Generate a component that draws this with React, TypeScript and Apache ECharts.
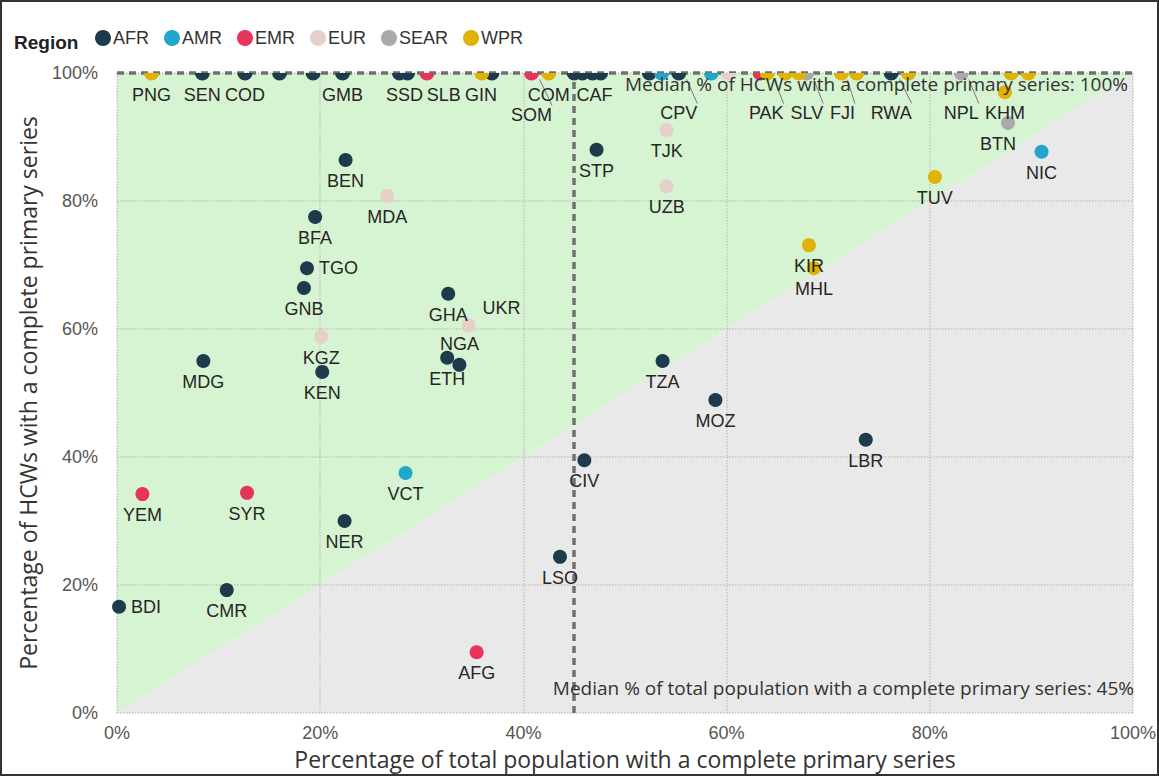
import React, { useEffect, useRef } from "react";
import * as echarts from "echarts";

// [code, % population complete primary series, % HCWs complete primary series]
const AFR: [string, number, number][] = [
  ["SEN", 8.4, 100], ["COD", 12.6, 100], ["", 16.0, 100], ["", 19.3, 100], ["GMB", 22.2, 100],
  ["", 27.8, 100], ["SSD", 28.6, 100], ["GIN", 36.9, 100], ["", 45.0, 100], ["", 45.8, 100],
  ["CAF", 46.8, 100], ["", 47.6, 100], ["", 52.4, 100], ["CPV", 55.3, 100], ["RWA", 76.2, 100],
  ["STP", 47.2, 88.0], ["BEN", 22.5, 86.4], ["BFA", 19.5, 77.5], ["TGO", 18.7, 69.5],
  ["GNB", 18.4, 66.4], ["GHA", 32.6, 65.5], ["KEN", 20.2, 53.3], ["MDG", 8.5, 55.0],
  ["ETH", 32.5, 55.5], ["NGA", 33.7, 54.4], ["TZA", 53.7, 55.0], ["MOZ", 58.9, 48.9],
  ["LBR", 73.7, 42.7], ["CIV", 46.0, 39.5], ["NER", 22.4, 30.0], ["LSO", 43.6, 24.4],
  ["CMR", 10.8, 19.2], ["BDI", 0.2, 16.6],
];
const AMR: [string, number, number][] = [
  ["", 53.6, 100], ["", 58.5, 100], ["NIC", 91.0, 87.7], ["VCT", 28.4, 37.5],
];
const EMR: [string, number, number][] = [
  ["", 30.5, 100], ["SOM", 40.8, 100], ["", 63.3, 100],
  ["YEM", 2.5, 34.2], ["SYR", 12.8, 34.4], ["AFG", 35.4, 9.5],
];
const EUR: [string, number, number][] = [
  ["", 60.2, 100], ["TJK", 54.1, 91.1], ["UZB", 54.1, 82.3], ["MDA", 26.6, 80.8],
  ["UKR", 34.6, 60.6], ["KGZ", 20.1, 58.8],
];
const SEAR: [string, number, number][] = [
  ["SLV", 67.9, 100], ["NPL", 83.1, 100], ["BTN", 87.7, 92.2],
];
const WPR: [string, number, number][] = [
  ["PNG", 3.4, 100], ["SLB", 35.9, 100], ["COM", 42.5, 100], ["PAK", 64.0, 100], ["", 65.8, 100],
  ["", 67.1, 100], ["FJI", 71.3, 100], ["", 72.8, 100], ["", 77.9, 100], ["", 88.0, 100],
  ["", 89.7, 100], ["KHM", 87.4, 97.0], ["TUV", 80.5, 83.75], ["KIR", 68.1, 73.1], ["MHL", 68.6, 69.5],
];

const REGIONS = ["AFR", "AMR", "EMR", "EUR", "SEAR", "WPR"];
const REGION_DATA = [AFR, AMR, EMR, EUR, SEAR, WPR];
const COLORS = ["#1d3b4c", "#20a7cb", "#e8335d", "#e6d0ca", "#a9a9a9", "#dfb203"];

const MEDIAN_X = 45;
const MEDIAN_Y = 100;
const AXIS_MIN = 0;
const AXIS_MAX = 100;

// label placement (style only)
const LABEL_CFG: Record<string, { position?: string; offset?: [number, number]; line?: boolean }> = {
  TGO: { position: "right" },
  BDI: { position: "right" },
  UKR: { position: "right", offset: [2, -17] },
  NGA: { position: "top" },
  SLB: { offset: [-38, 0] },
  GIN: { offset: [-11, 0] },
  SSD: { offset: [-3, 0] },
  SOM: { offset: [0, 20], line: true },
  CPV: { offset: [0, 18], line: true },
  PAK: { offset: [-1, 18], line: true },
  SLV: { offset: [0, 18], line: true },
  FJI: { offset: [1, 18], line: true },
  RWA: { offset: [0, 18], line: true },
  NPL: { offset: [0, 18], line: true },
  BTN: { offset: [-10, 0] },
  CAF: { offset: [2, 0] },
};

const FONT = "'Liberation Sans', Arial, sans-serif";
const FONT2 = "'Open Sans', sans-serif";
const HALF_DOT = "path://M0,0 A1,1 0 0 0 2,0 Z";

export default function App() {
  const ref = useRef<HTMLDivElement>(null);
  useEffect(() => {
    document.body.style.margin = "0";
    const chart = echarts.init(ref.current!, undefined, { renderer: "svg" });

    const scatterSeries = REGIONS.map((r, i) => ({
      name: r,
      type: "scatter",
      symbolSize: 14,
      clip: true,
      z: 6,
      itemStyle: { color: COLORS[i], opacity: 1 },
      label: {
        show: true,
        position: "bottom",
        distance: 5,
        formatter: "{b}",
        fontFamily: FONT,
        fontSize: 18,
        color: "#262626",
      },
      labelLine: { show: false, lineStyle: { color: "#777", width: 1 } },
      data: REGION_DATA[i].map(([code, x, y]) => {
        const cfg = LABEL_CFG[code] || {};
        const item: any = { name: code, value: [x, y] };
        if (y >= AXIS_MAX) {
          // dot clipped by the top edge of the plot: only the lower half shows
          item.symbol = HALF_DOT;
          item.symbolSize = [15, 7.5];
          item.symbolOffset = [0, 3.75];
        }
        if (cfg.position || cfg.offset) {
          item.label = {};
          if (cfg.position) item.label.position = cfg.position;
          if (cfg.offset) item.label.offset = cfg.offset;
        }
        if (cfg.line) item.labelLine = { show: true, length2: 0 };
        return item;
      }),
    }));

    const option: any = {
      animation: false,
      textStyle: { fontFamily: FONT },
      title: {
        text: "Region",
        left: 9,
        top: 28,
        textStyle: { fontSize: 19, fontWeight: "bold", color: "#222", fontFamily: FONT },
      },
      legend: {
        data: REGIONS,
        left: 95,
        top: 29,
        icon: "circle",
        itemWidth: 16,
        itemHeight: 16,
        itemGap: 15,
        padding: 0,
        textStyle: { fontSize: 18, color: "#333", fontFamily: FONT, padding: [0, 0, 0, -3] },
      },
      grid: { left: 117, right: 24, top: 73, bottom: 63, containLabel: false },
      xAxis: {
        type: "value",
        min: AXIS_MIN,
        max: AXIS_MAX,
        interval: 20,
        name: "Percentage of total population with a complete primary series",
        nameLocation: "middle",
        nameGap: 34,
        nameTextStyle: { fontSize: 23, color: "#333", fontFamily: FONT2 },
        axisLine: { show: false },
        axisTick: { show: false },
        axisLabel: { formatter: "{value}%", fontSize: 18, color: "#555", margin: 11, fontFamily: FONT },
        splitLine: { show: true, lineStyle: { type: "dotted", color: "#c4c4c4", width: 1.5 } },
      },
      yAxis: {
        type: "value",
        min: AXIS_MIN,
        max: AXIS_MAX,
        interval: 20,
        name: "Percentage of HCWs with a complete primary series",
        nameLocation: "middle",
        nameGap: 78,
        nameTextStyle: { fontSize: 23, color: "#333", fontFamily: FONT2 },
        axisLine: { show: false },
        axisTick: { show: false },
        axisLabel: { formatter: "{value}%", fontSize: 18, color: "#555", margin: 19, fontFamily: FONT },
        splitLine: { show: true, lineStyle: { type: "dotted", color: "#c4c4c4", width: 1.5 } },
      },
      series: [
        {
          type: "custom",
          z: -1,
          silent: true,
          data: [[AXIS_MIN, AXIS_MAX]],
          renderItem: (params: any, api: any) => {
            const lo = api.value(0);
            const hi = api.value(1);
            const a = api.coord([lo, lo]);
            const b = api.coord([lo, hi]);
            const c = api.coord([hi, hi]);
            const d = api.coord([hi, lo]);
            return {
              type: "group",
              children: [
                { type: "polygon", shape: { points: [a, b, c] }, style: { fill: "#d6f4d1" } },
                { type: "polygon", shape: { points: [a, d, c] }, style: { fill: "#e9e9e9" } },
              ],
            };
          },
        },
        {
          type: "scatter",
          data: [],
          z: 4,
          markLine: {
            silent: true,
            symbol: "none",
            label: { show: false },
            lineStyle: { type: [7, 5], color: "#707070", width: 3.5 },
            data: [{ xAxis: MEDIAN_X }, { yAxis: MEDIAN_Y }],
          },
        },
        ...scatterSeries,
      ],
      graphic: [
        {
          type: "text",
          right: 31,
          top: 74,
          z: 10,
          style: {
            text: `Median % of HCWs with a complete primary series: ${MEDIAN_Y}%`,
            fontSize: 19,
            fontFamily: FONT2,
            fill: "#333",
          },
        },
        {
          type: "text",
          right: 25,
          top: 678,
          z: 10,
          style: {
            text: `Median % of total population with a complete primary series: ${MEDIAN_X}%`,
            fontSize: 19,
            fontFamily: FONT2,
            fill: "#333",
          },
        },
      ],
    };
    chart.setOption(option);
    return () => chart.dispose();
  }, []);

  return (
    <div style={{ position: "relative", width: 1159, height: 776, background: "#fff" }}>
      <div ref={ref} style={{ position: "absolute", left: 0, top: 0, width: 1159, height: 776 }} />
      <div
        style={{
          position: "absolute",
          left: 0,
          top: 0,
          width: 1159,
          height: 776,
          boxSizing: "border-box",
          border: "2px solid #333",
          pointerEvents: "none",
        }}
      />
    </div>
  );
}
